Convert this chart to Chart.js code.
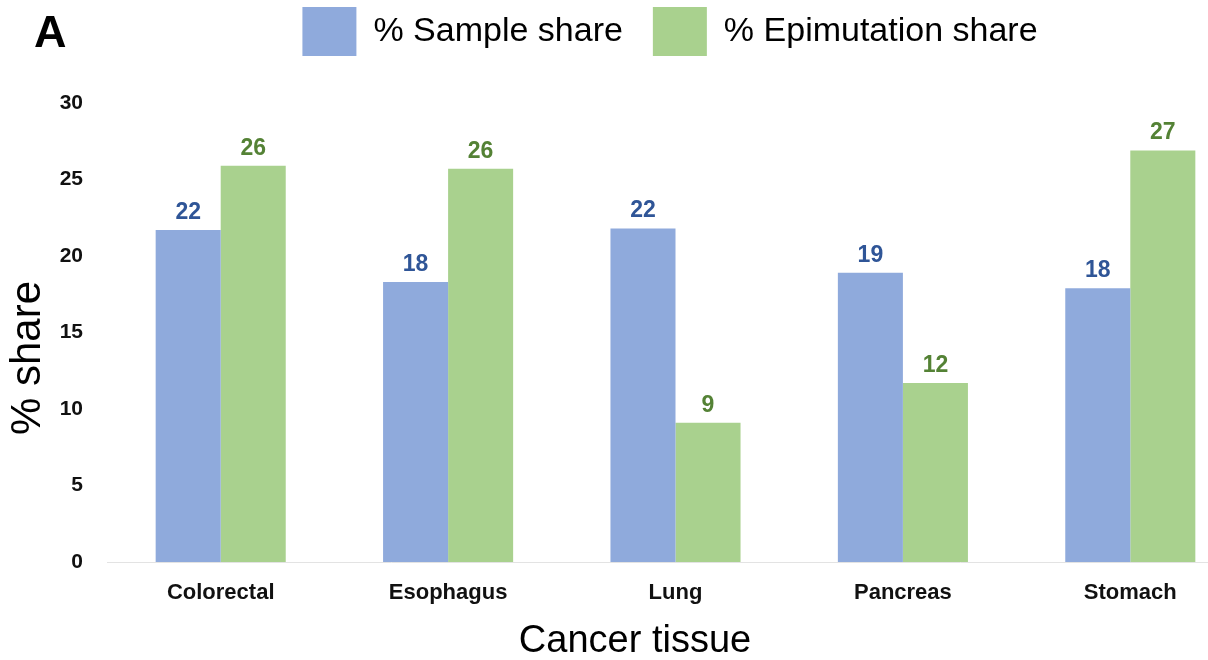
<!DOCTYPE html>
<html>
<head>
<meta charset="utf-8">
<title>Cancer tissue share</title>
<script src="https://cdn.jsdelivr.net/npm/chart.js@4.4.1/dist/chart.umd.min.js"></script>
<style>
  html, body { margin: 0; padding: 0; background: #fff; overflow: hidden; }
  #wrap { width: 1208px; height: 660px; overflow: hidden; }
</style>
</head>
<body>
<div id="wrap"><canvas id="shareChart" width="1340" height="660"></canvas></div>
<script>
// tissues and the two shares per tissue (%)
const tissues = ['Colorectal', 'Esophagus', 'Lung', 'Pancreas', 'Stomach'];
const sampleShare = [21.7, 18.3, 21.8, 18.9, 17.9];
const epimutationShare = [25.9, 25.7, 9.1, 11.7, 26.9];
const seriesNames = ['% Sample share', '% Epimutation share'];
const yTicks = [0, 5, 10, 15, 20, 25, 30];

const panelLetter = 'A';
const xTitle = 'Cancer tissue';
const yTitle = '% share';

const FONT = "'Liberation Sans', Arial, sans-serif";

// value labels above every bar, rounded to whole percent
const barLabels = {
    id: 'barLabels',
    afterDatasetsDraw(chart) {
        const ctx = chart.ctx;
        ctx.save();
        ctx.font = 'bold 23px ' + FONT;
        ctx.textAlign = 'center';
        ctx.textBaseline = 'bottom';
        chart.data.datasets.forEach((ds, i) => {
            ctx.fillStyle = ds.labelColor;
            chart.getDatasetMeta(i).data.forEach((bar, j) => {
                ctx.fillText(Math.round(ds.data[j]), bar.x, bar.y - 6);
            });
        });
        ctx.restore();
    }
};

// panel letter and the two axis titles
const extraText = {
    id: 'extraText',
    afterDraw(chart) {
        const ctx = chart.ctx;
        ctx.save();
        ctx.fillStyle = '#000';
        ctx.font = 'bold 45px ' + FONT;
        ctx.textAlign = 'left';
        ctx.textBaseline = 'alphabetic';
        ctx.fillText(panelLetter, 34, 47);

        ctx.font = '38px ' + FONT;
        ctx.textAlign = 'center';
        ctx.textBaseline = 'middle';
        ctx.fillText(xTitle, 635, 642);

        ctx.translate(28, 358);
        ctx.rotate(-Math.PI / 2);
        ctx.font = '42px ' + FONT;
        ctx.fillText(yTitle, 0, 0);
        ctx.restore();
    }
};

// leave room under the legend and centre it over the visible part
const legendGap = {
    id: 'legendGap',
    beforeInit(chart) {
        const fit = chart.legend.fit;
        chart.legend.fit = function () {
            fit.bind(chart.legend)();
            this.height += 37;
        };
    },
    afterLayout(chart) {
        chart.legend.left += 96;
    }
};

new Chart(document.getElementById('shareChart'), {
    type: 'bar',
    data: {
        labels: tissues,
        datasets: [{
            label: seriesNames[0],
            data: sampleShare,
            backgroundColor: '#8faadc',
            labelColor: '#2f5597',
            borderWidth: 0
        }, {
            label: seriesNames[1],
            data: epimutationShare,
            backgroundColor: '#a9d18e',
            labelColor: '#548235',
            borderWidth: 0
        }]
    },
    options: {
        responsive: false,
        animation: false,
        categoryPercentage: 0.572,
        barPercentage: 1.0,
        layout: {
            padding: { top: -23, right: 96, bottom: 0, left: 0 }
        },
        plugins: {
            legend: {
                position: 'top',
                labels: {
                    boxWidth: 54,
                    boxHeight: 49,
                    padding: 30,
                    color: '#000',
                    font: { family: FONT, size: 34 }
                }
            },
            tooltip: { enabled: false }
        },
        scales: {
            x: {
                grid: { display: false, drawTicks: false },
                border: { display: true, color: '#e3e3e3', width: 1 },
                ticks: {
                    color: '#111',
                    padding: 18,
                    font: { family: FONT, size: 22, weight: 'bold' }
                },
                afterFit(scale) { scale.height = 98; }
            },
            y: {
                min: 0,
                max: 30,
                grid: { display: false, drawTicks: false },
                border: { display: false },
                afterBuildTicks(scale) {
                    scale.ticks = yTicks.map(v => ({ value: v }));
                },
                ticks: {
                    color: '#111',
                    padding: 24,
                    font: { family: FONT, size: 21, weight: 'bold' }
                },
                afterFit(scale) { scale.width = 107; }
            }
        }
    },
    plugins: [legendGap, barLabels, extraText]
});
</script>
</body>
</html>
